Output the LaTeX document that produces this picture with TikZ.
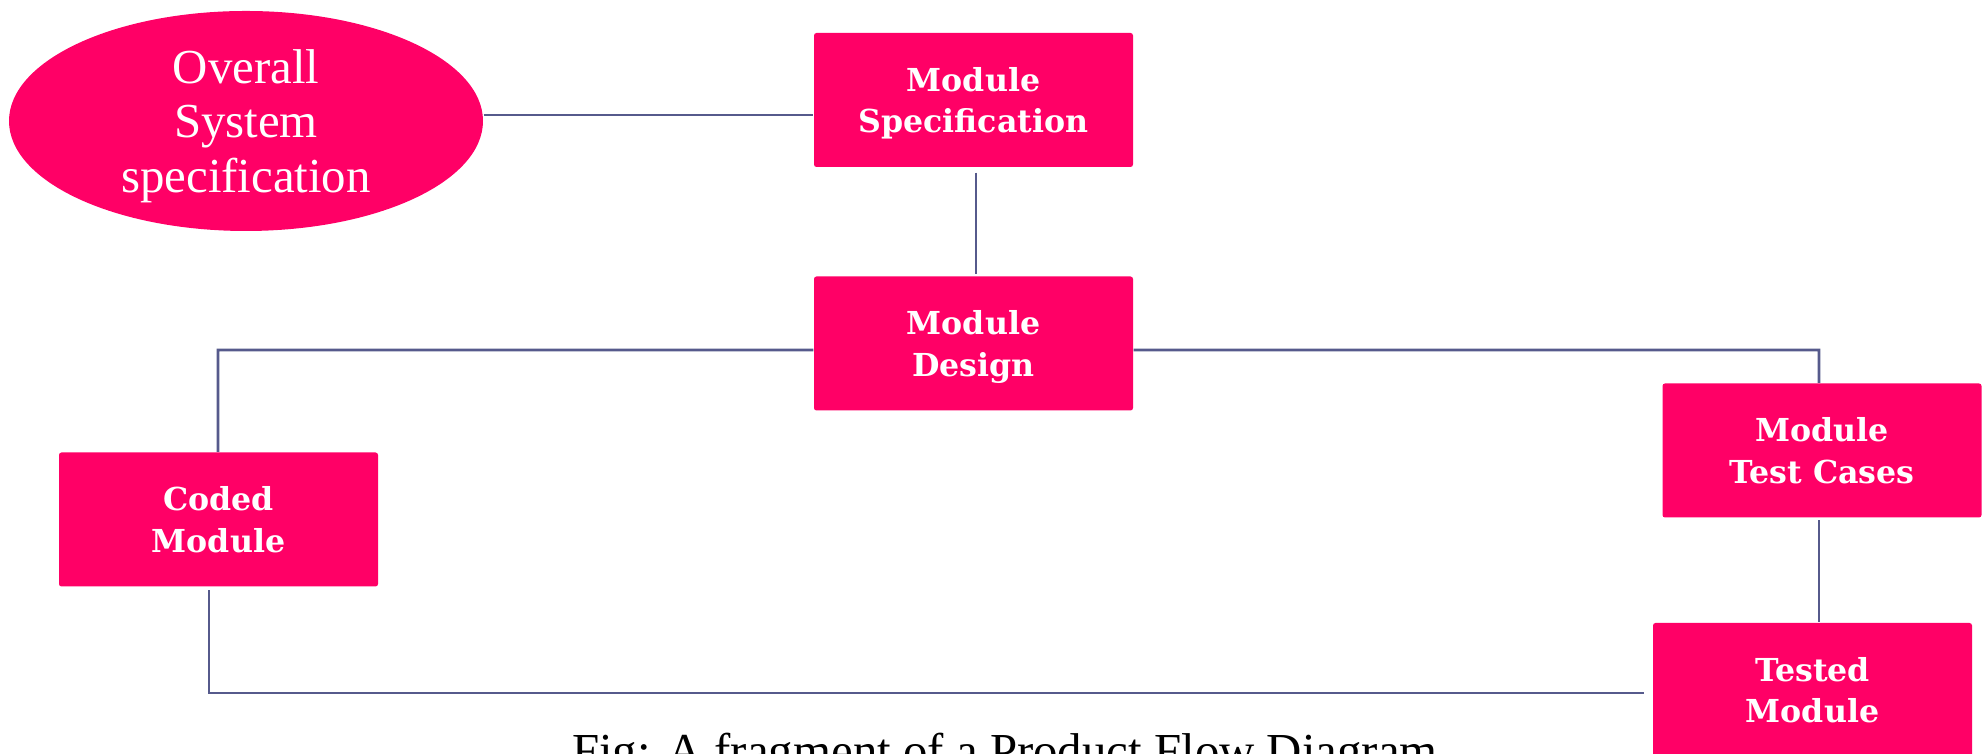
\documentclass[tikz,border=0pt]{standalone}
\usepackage{fontspec}
\setmainfont{Liberation Serif}
\newfontfamily\boxfont{DejaVu Serif}
\usetikzlibrary{shapes.geometric,calc}
\definecolor{hotpink}{RGB}{255,0,102}
\definecolor{linkblue}{RGB}{86,90,140}
% last line of a label without its descender depth
\newcommand\flatline[1]{\raisebox{0pt}[\height][0pt]{#1}}
\tikzset{
  stage/.style={fill=hotpink, draw=none, rounded corners=0.25mm,
    minimum width=31.9mm, minimum height=13.4mm, inner sep=0pt,
    text=white, align=center,
    font=\boxfont\bfseries\fontsize{9}{11.7}\selectfont},
  origin/.style={ellipse, fill=hotpink, draw=none,
    minimum width=47.4mm, minimum height=22mm, inner sep=0pt,
    text=white, align=center,
    font=\fontsize{13.9}{15.6}\selectfont},
  link/.style={draw=linkblue, line width=0.28mm}
}
\begin{document}
\begin{tikzpicture}[x=0.1mm, y=-0.1mm]
  \useasboundingbox (0,0) rectangle (1986,754);

  % shapes
  \node[origin] (sys) at (246,121) {Overall\\System\\\flatline{specification}};
  \node[stage] (spec) at (973.5,100) {Module\\\flatline{Specification}};
  \node[stage] (des)  at (973.5,343.5) {Module\\\flatline{Design}};
  \node[stage] (code) at (218.5,519.5) {Coded\\\flatline{Module}};
  \node[stage] (test) at (1822,450.5) {Module\\\flatline{Test Cases}};
  \node[stage] (done) at (1812.5,690) {Tested\\\flatline{Module}};

  % bend points of the connectors
  \coordinate (cl) at (218,350);
  \coordinate (cr) at (1819,350);
  \coordinate (bl) at (209,693);

  % connectors
  \draw[link] ([yshift=0.6mm]sys.east) -- ([yshift=0.6mm]sys.east -| spec.west);
  \draw[link] ([xshift=0.25mm,yshift=-0.5mm]spec.south) -- ([xshift=0.25mm,yshift=0.2mm]des.north);
  \draw[link] ([yshift=-0.65mm]des.west) -- (cl) -- (cl |- code.north);
  \draw[link] ([yshift=-0.65mm]des.east) -- (cr) -- (cr |- test.north);
  \draw[link] ([xshift=-0.3mm,yshift=-0.2mm]test.south) -- ([xshift=-0.3mm]test.south |- done.north);
  \draw[link] ([yshift=-0.3mm]code.south -| bl) -- (bl) -- ([xshift=-0.8mm]bl -| done.west);

  % caption
  \node[anchor=base, font=\fontsize{13.9}{16}\selectfont, inner sep=0pt]
    (cap) at (1005,768) {Fig: A fragment of a Product Flow Diagram};
\end{tikzpicture}
\end{document}
